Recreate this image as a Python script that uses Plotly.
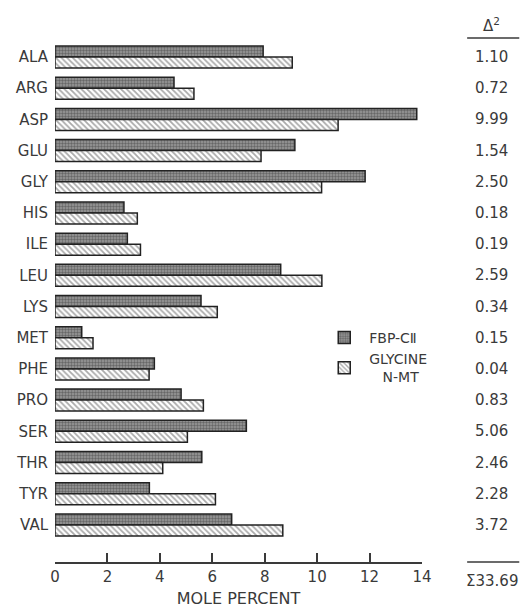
import plotly.graph_objects as go

amino = ["ALA", "ARG", "ASP", "GLU", "GLY", "HIS", "ILE", "LEU", "LYS", "MET",
         "PHE", "PRO", "SER", "THR", "TYR", "VAL"]
fbp = [7.94, 4.54, 13.8, 9.15, 11.83, 2.63, 2.76, 8.61, 5.57, 1.02,
       3.79, 4.81, 7.30, 5.60, 3.60, 6.74]
gnmt = [9.05, 5.30, 10.8, 7.86, 10.17, 3.14, 3.26, 10.18, 6.19, 1.45,
        3.59, 5.66, 5.05, 4.11, 6.12, 8.69]
delta2 = ["1.10", "0.72", "9.99", "1.54", "2.50", "0.18", "0.19", "2.59", "0.34", "0.15",
          "0.04", "0.83", "5.06", "2.46", "2.28", "3.72"]
delta_sum = "Σ33.69"
x_ticks = [0, 2, 4, 6, 8, 10, 12, 14]

ink = "#3a3a3a"
font = "DejaVu Sans"

fig = go.Figure()
fig.add_trace(go.Bar(
    y=amino, x=fbp, orientation="h", name="FBP-CⅡ",
    marker=dict(color="#8a8a8a", line=dict(color="#222222", width=1.5),
                pattern=dict(shape=".", fgcolor="#333333", bgcolor="#9a9a9a",
                             size=3, solidity=0.5)),
))
fig.add_trace(go.Bar(
    y=amino, x=gnmt, orientation="h", name="GLYCINE<br>   N-MT",
    marker=dict(color="white", line=dict(color="#222222", width=1.5),
                pattern=dict(shape="\\", fgcolor="#555555", bgcolor="white",
                             size=4, solidity=0.45)),
))

ann = []
for a, d in zip(amino, delta2):
    ann.append(dict(x=1.19, xref="paper", y=a, yref="y", text=d, showarrow=False,
                    font=dict(family=font, size=15, color=ink), xanchor="center"))
ann.append(dict(x=1.19, xref="paper", y=1.006, yref="paper", text="Δ<sup>2</sup>",
                showarrow=False, font=dict(family=font, size=15, color=ink),
                xanchor="center", yanchor="bottom"))
ann.append(dict(x=1.19, xref="paper", y=-0.016, yref="paper", text=delta_sum,
                showarrow=False, font=dict(family=font, size=15, color=ink),
                xanchor="center", yanchor="top"))

shapes = [
    dict(type="line", xref="paper", yref="paper", x0=1.123, x1=1.265, y0=1.004, y1=1.004,
         line=dict(color=ink, width=1.5)),
    dict(type="line", xref="paper", yref="paper", x0=1.123, x1=1.265, y0=0, y1=0,
         line=dict(color=ink, width=1.5)),
]

fig.update_layout(
    width=524, height=608,
    margin=dict(l=55, r=102, t=40, b=46),
    paper_bgcolor="white", plot_bgcolor="white",
    barmode="group", bargap=0.295, bargroupgap=0,
    font=dict(family=font, size=15, color=ink),
    showlegend=True,
    legend=dict(x=0.72, y=0.46, xanchor="left", yanchor="top",
                bgcolor="rgba(0,0,0,0)", font=dict(size=14, color=ink),
                tracegroupgap=2, itemwidth=40),
    annotations=ann, shapes=shapes,
    xaxis=dict(range=[0, 14], tickvals=x_ticks, ticks="inside", ticklen=9,
               tickwidth=1.5, tickcolor=ink, showline=True, linecolor=ink,
               linewidth=1.5, showgrid=False, zeroline=False, automargin=False,
               tickfont=dict(size=15, color=ink),
               title=dict(text="MOLE PERCENT", font=dict(size=16, color=ink), standoff=19)),
    yaxis=dict(range=[16.19, -0.545], showgrid=False, zeroline=False, showline=False,
               ticks="", tickfont=dict(size=15, color=ink), ticklabelstandoff=6),
)

fig.write_html("out.html")
